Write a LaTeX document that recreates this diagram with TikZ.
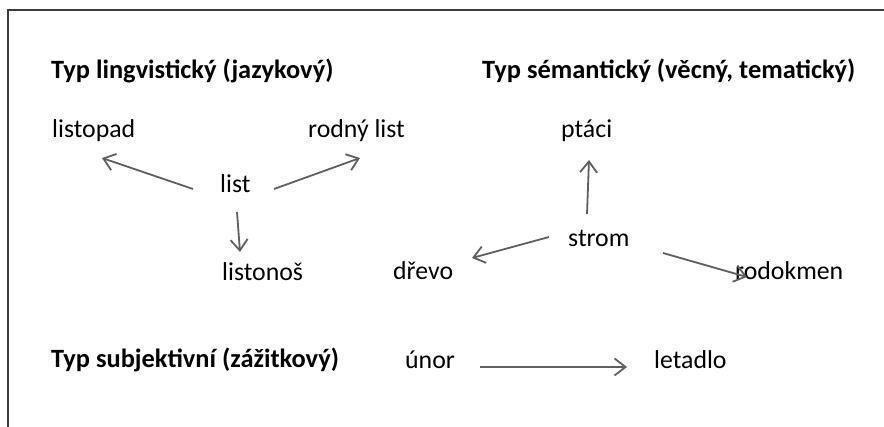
\documentclass[tikz,border=0pt]{standalone}
\usepackage{fontspec}
\setmainfont{Carlito}
\usetikzlibrary{arrows.meta}
\definecolor{arrowgray}{HTML}{5F5F5F}
\definecolor{framegray}{HTML}{3C3C3C}
\tikzset{
  word/.style={anchor=base west, inner sep=0pt, font=\fontsize{25.8}{30}\selectfont},
  heading/.style={word, font=\fontsize{26.4}{31}\selectfont\bfseries},
  link/.style={draw=arrowgray, line width=1.8pt,
    -{Straight Barb[length=11pt, width=17pt, line width=1.8pt]}},
}
\begin{document}
\begin{tikzpicture}[x=1pt, y=-1pt]
\useasboundingbox (0,0) rectangle (884,427);
% open frame: top and left edges
\draw[framegray, line width=2pt] (8,427) -- (8,10) -- (884,10);

% headings
\node[heading] (t1) at (51,79) {Typ lingvistický (jazykový)};
\node[heading] (t2) at (482,79) {Typ sémantický (věcný, tematický)};
\node[heading] (t3) at (51,368) {Typ subjektivní (zážitkový)};

% linguistic group
\node[word] (listopad) at (52,138) {listopad};
\node[word] (rodny) at (308,138) {rodný list};
\node[word] (list) at (220,193) {list};
\node[word] (listonos) at (222,281) {listonoš};

% semantic group
\node[word] (ptaci) at (561,138) {ptáci};
\node[word] (strom) at (568,247) {strom};
\node[word] (drevo) at (393,280) {dřevo};
\node[word] (rodokmen) at (735,280) {rodokmen};

% subjective group
\node[word] (unor) at (405,369) {únor};
\node[word] (letadlo) at (654,369) {letadlo};

% connectors
\draw[link] ([shift={(-27,-4)}]list.base west) -- ([shift={(50,20)}]listopad.base west);
\draw[link] ([shift={(54,-4)}]list.base west) -- ([shift={(52,20)}]rodny.base west);
\draw[link] ([shift={(17,19)}]list.base west) -- ([shift={(18,-29)}]listonos.base west);

\draw[link] ([shift={(19,-33)}]strom.base west) -- ([shift={(28,22)}]ptaci.base west);
\draw[link] ([shift={(-19,-10)}]strom.base west) -- ([shift={(79,-22)}]drevo.base west);
\draw[link] ([shift={(95,6)}]strom.base west) -- ([shift={(12,-3)}]rodokmen.base west);

\draw[link] ([shift={(75,-2)}]unor.base west) -- ([shift={(-27,-2)}]letadlo.base west);
\end{tikzpicture}
\end{document}
